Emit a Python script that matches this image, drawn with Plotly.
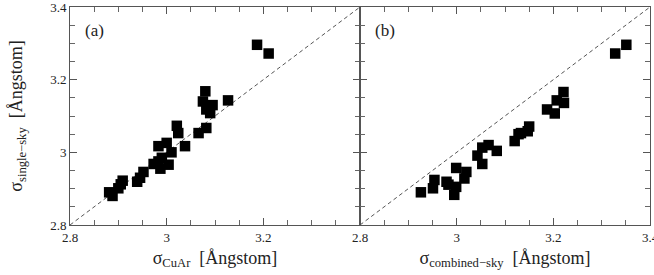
import plotly.graph_objects as go
from plotly.subplots import make_subplots

# Panel (a): sigma_CuAr vs sigma_single-sky
cuar = [2.881, 2.888, 2.900, 2.909, 2.905, 2.939, 2.945, 2.952, 2.973, 2.987, 2.983, 3.004,
        2.990, 3.010, 3.000, 2.983, 3.038, 3.021, 3.024, 3.066, 3.082, 3.080, 3.075, 3.082,
        3.095, 3.090, 3.127, 3.187, 3.211]
single_a = [2.890, 2.880, 2.901, 2.922, 2.912, 2.919, 2.930, 2.946, 2.968, 2.955, 2.975, 2.966,
            2.985, 3.000, 3.026, 3.017, 3.017, 3.073, 3.053, 3.053, 3.067, 3.168, 3.140, 3.118,
            3.130, 3.108, 3.143, 3.296, 3.272]

# Panel (b): sigma_combined-sky vs sigma_single-sky
combined = [2.926, 2.951, 2.954, 2.983, 2.979, 2.995, 2.999, 3.016, 3.020, 2.999, 3.053, 3.043,
            3.053, 3.083, 3.066, 3.120, 3.128, 3.133, 3.147, 3.150, 3.203, 3.187, 3.207, 3.222,
            3.221, 3.328, 3.351]
single_b = [2.890, 2.901, 2.924, 2.911, 2.919, 2.883, 2.905, 2.928, 2.946, 2.957, 2.968, 2.991,
            3.013, 3.004, 3.020, 3.031, 3.050, 3.053, 3.058, 3.071, 3.107, 3.118, 3.143, 3.136,
            3.166, 3.272, 3.296]

line_ref = [2.8, 3.4]
xticks_a = [2.8, 3.0, 3.2]
xticks_b = [2.8, 3.0, 3.2, 3.4]
yticks = [2.8, 3.0, 3.2, 3.4]
tick_text = {2.8: "2.8", 3.0: "3", 3.2: "3.2", 3.4: "3.4"}

fig = make_subplots(rows=1, cols=2, horizontal_spacing=0)

marker = dict(symbol="square", size=10.5, color="black", line=dict(width=0))
dash_line = dict(color="#555", width=1, dash="4px,3px")
fig.add_trace(go.Scatter(x=line_ref, y=line_ref, mode="lines", line=dash_line), row=1, col=1)
fig.add_trace(go.Scatter(x=cuar, y=single_a, mode="markers", marker=marker), row=1, col=1)
fig.add_trace(go.Scatter(x=line_ref, y=line_ref, mode="lines", line=dash_line), row=1, col=2)
fig.add_trace(go.Scatter(x=combined, y=single_b, mode="markers", marker=marker), row=1, col=2)

font_serif = "Liberation Serif"
axis_common = dict(range=[2.8, 3.4], showgrid=False, zeroline=False, showline=True,
                   linecolor="#555", linewidth=1, mirror="allticks", ticks="inside",
                   ticklen=7, tickcolor="#555", automargin=False, ticklabeloverflow="allow",
                   minor=dict(dtick=0.05, tick0=2.8, ticks="inside", ticklen=5, tickcolor="#666"),
                   tickfont=dict(family=font_serif, size=13, color="#222"))

fig.update_xaxes(**axis_common)
fig.update_yaxes(**axis_common)
fig.update_xaxes(tickvals=xticks_a, ticktext=[tick_text[v] for v in xticks_a], row=1, col=1,
                 title=dict(text="σ<sub>CuAr</sub>  [Ångstom]",
                            font=dict(family=font_serif, size=18, color="#222"), standoff=7))
fig.update_xaxes(tickvals=xticks_b, ticktext=[tick_text[v] for v in xticks_b], row=1, col=2,
                 title=dict(text="σ<sub>combined−sky</sub>  [Ångstom]",
                            font=dict(family=font_serif, size=18, color="#222"), standoff=7))
fig.update_yaxes(tickvals=yticks, ticktext=[tick_text[v] for v in yticks], row=1, col=1,
                 title=dict(text="σ<sub>single−sky</sub>  [Ångstom]",
                            font=dict(family=font_serif, size=18, color="#222"), standoff=22))
fig.update_yaxes(tickvals=yticks, showticklabels=False, row=1, col=2)

fig.update_layout(
    width=654, height=275, showlegend=False,
    margin=dict(l=70, r=4, t=7, b=50),
    plot_bgcolor="white", paper_bgcolor="white",
    annotations=[
        dict(text="(a)", x=2.826, y=3.335, xref="x", yref="y", showarrow=False,
             xanchor="left", font=dict(family=font_serif, size=17, color="#222")),
        dict(text="(b)", x=2.826, y=3.335, xref="x2", yref="y2", showarrow=False,
             xanchor="left", font=dict(family=font_serif, size=17, color="#222")),
    ],
)
fig.update_xaxes(domain=[0, 0.5], row=1, col=1)
fig.update_xaxes(domain=[0.5, 1.0], row=1, col=2)

fig.write_html("out.html", config={"displayModeBar": False},
               post_script="document.body.style.margin='0';document.body.style.padding='0';")
